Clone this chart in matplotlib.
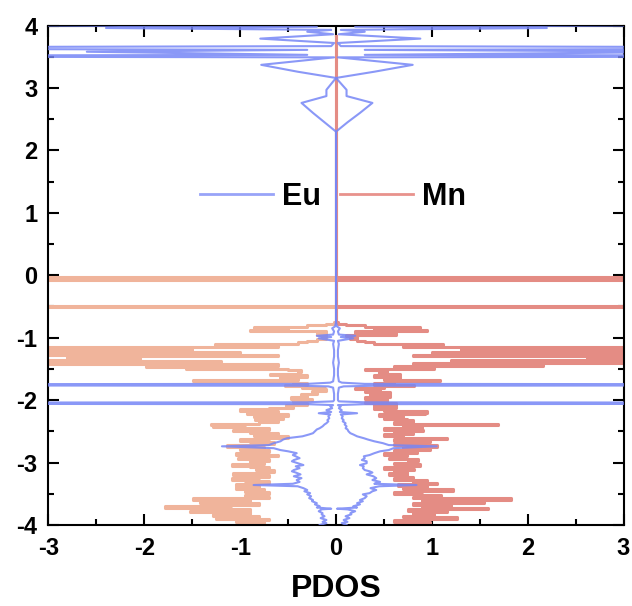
import numpy as np
import matplotlib
matplotlib.use("Agg")
import matplotlib.pyplot as plt
from matplotlib.lines import Line2D

plt.rcParams['font.family'] = ['Liberation Sans', 'DejaVu Sans']
plt.rcParams['font.weight'] = 'bold'
plt.rcParams['axes.unicode_minus'] = False

# Mn pdos on a 0.025 eV grid from -4.0 to -0.75 (spin dn plotted negative)
mn_energy = np.round(np.arange(-4.0, -0.7499, 0.025), 3)
mn_dn = [0.8, 0.75, 1.04, 0.7,
         1.25, 0.8, 1.28, 0.9,
         1.52, 0.9, 1.2, 1.78,
         1.1, 0.8, 1.42, 0.9,
         1.49, 0.7, 0.95, 0.83,
         0.7, 0.95, 0.75, 1.04,
         0.8, 1.04, 0.85, 0.7,
         0.95, 1.09, 0.8, 0.7,
         1.07, 0.75, 0.65, 0.83,
         0.7, 0.9, 1.09, 0.75,
         0.9, 0.7, 1.02, 0.8,
         0.6, 1.04, 0.85, 0.7,
         1.0, 0.75, 1.14, 0.8,
         0.65, 0.9, 1.0, 0.7,
         0.5, 0.86, 0.6, 0.9,
         1.07, 0.7, 0.95, 1.28,
         1.30, 0.8, 0.6, 0.85,
         0.55, 0.86, 0.5, 0.93,
         0.6, 1.0, 0.7, 0.45,
         0.52, 0.3, 0.4, 0.45,
         0.25, 0.47, 0.3, 0.36,
         0.2, 0.25, 0.1, 0.11,
         0.35, 0.53, 0.3, 0.45,
         1.49, 0.4, 0.58, 0.3,
         0.69, 0.4, 0.36, 0.5,
         1.56, 1.98, 0.6, 5.0,
         1.2, 5.0, 2.05, 2.81,
         0.6, 5.0, 1.0, 5.0,
         1.5, 5.0, 0.6, 1.26,
         0.4, 0.3, 0.2, 0.1,
         0.15, 0.1, 0.2, 0.1,
         0.9, 0.5, 0.86, 0.3,
         0.1, 0.02, 0.0]
mn_up = [0.7, 0.98, 0.6, 0.9,
         1.26, 0.7, 1.02, 0.8,
         1.16, 0.75, 1.59, 0.9,
         1.2, 0.8, 1.54, 0.9,
         1.83, 0.8, 1.1, 0.88,
         0.6, 0.9, 1.22, 0.7,
         0.95, 0.65, 1.05, 0.8,
         0.95, 0.6, 0.8, 0.74,
         0.55, 0.74, 0.6, 0.81,
         0.5, 0.7, 0.88, 0.6,
         0.75, 0.86, 0.55, 0.7,
         0.74, 0.5, 0.85, 0.6,
         0.98, 0.7, 1.05, 0.6,
         0.8, 0.98, 0.6, 1.16,
         0.7, 0.5, 0.8, 0.6,
         0.91, 0.5, 0.9, 0.7,
         1.69, 0.6, 0.8, 0.74,
         0.5, 0.7, 0.45, 0.93,
         0.95, 0.5, 0.4, 0.63,
         0.4, 0.63, 0.3, 0.53,
         0.53, 0.3, 0.56, 0.35,
         0.56, 0.3, 0.46, 0.2,
         0.5, 0.81, 0.4, 0.6,
         1.09, 0.5, 0.67, 0.4,
         0.67, 0.45, 0.53, 0.3,
         1.02, 0.6, 2.16, 0.8,
         5.0, 1.2, 5.0, 2.62,
         0.8, 5.0, 1.0, 5.0,
         1.3, 5.0, 0.7, 1.12,
         0.4, 0.3, 0.22, 0.15,
         0.22, 0.1, 0.63, 0.2,
         0.95, 0.4, 0.88, 0.3,
         0.1, 0.02, 0.0]
# sharp Mn states near the Fermi level, then flat up to 3.83 eV
mn_peak_energy = [-0.512, -0.488, -0.08, -0.064, -0.048, -0.032, -0.016, 3.83]
mn_peak_dn = [6.0, 0.0, 6.0, 0.0, 6.0, 0.0, 0.0, 0.0]
mn_peak_up = [6.0, 0.0, 6.0, 0.0, 6.0, 0.0, 0.0, 0.0]

# Eu pdos (up plotted positive, dn negative)
eu_energy = [-4.00, -3.97, -3.95, -3.92, -3.89, -3.86, -3.83, -3.81, -3.78, -3.75,
             -3.74, -3.72, -3.70, -3.67, -3.65, -3.62, -3.60, -3.57, -3.54, -3.51,
             -3.49, -3.46, -3.44, -3.41, -3.38, -3.36, -3.34, -3.31, -3.28, -3.25,
             -3.22, -3.19, -3.16, -3.14, -3.12, -3.09, -3.06, -3.04, -3.01, -2.98,
             -2.96, -2.93, -2.90, -2.88, -2.85, -2.82, -2.80, -2.77, -2.74, -2.72,
             -2.69, -2.66, -2.63, -2.61, -2.58, -2.55, -2.53, -2.50, -2.47, -2.45,
             -2.42, -2.39, -2.37, -2.34, -2.32, -2.29, -2.26, -2.23, -2.21, -2.19,
             -2.16, -2.13, -2.10, -2.08, -2.065, -2.05, -2.035, -2.02, -2.00, -1.90,
             -1.80, -1.78, -1.77, -1.755, -1.74, -1.72, -1.70, -1.60, -1.50, -1.40,
             -1.30, -1.20, -1.10, -1.05, -1.01, -0.99, -0.97, -0.95, -0.90, -0.85,
             -0.82, -0.75, 2.30, 2.45, 2.60, 2.76, 2.87, 2.97, 3.16, 3.26,
             3.37, 3.49, 3.51, 3.53, 3.58, 3.61, 3.64, 3.67, 3.72, 3.79,
             3.86, 3.90, 3.93, 3.96, 3.98, 4.00]
eu_up = [0.11, 0.06, 0.12, 0.08, 0.14, 0.10, 0.16, 0.15, 0.20, 0.12,
         0.01, 0.22, 0.18, 0.25, 0.22, 0.28, 0.25, 0.30, 0.32, 0.28,
         0.35, 0.38, 0.42, 0.36, 0.45, 0.84, 0.40, 0.46, 0.38, 0.42,
         0.39, 0.32, 0.38, 0.35, 0.30, 0.28, 0.29, 0.25, 0.32, 0.32,
         0.27, 0.30, 0.29, 0.35, 0.40, 0.46, 0.55, 0.60, 1.05, 0.55,
         0.49, 0.40, 0.33, 0.29, 0.22, 0.18, 0.15, 0.13, 0.12, 0.10,
         0.11, 0.09, 0.10, 0.07, 0.08, 0.06, 0.07, 0.05, 0.22, 0.04,
         0.06, 0.03, 0.05, 0.02, 0.3, 12.0, 0.3, 0.03, 0.02, 0.02,
         0.03, 0.08, 0.4, 12.0, 0.3, 0.06, 0.03, 0.02, 0.02, 0.03,
         0.02, 0.02, 0.03, 0.02, 0.18, 0.05, 0.20, 0.03, 0.02, 0.04,
         0.01, 0.0, 0.0, 0.12, 0.25, 0.38, 0.11, 0.11, 0.0, 0.40,
         0.80, 0.02, 8.0, 0.3, 4.0, 0.3, 8.0, 0.05, 0.02, 0.88,
         0.03, 0.30, 0.05, 2.2, 0.2, 3.0]
eu_dn = [0.17, 0.10, 0.14, 0.10, 0.16, 0.12, 0.15, 0.14, 0.18, 0.15,
         0.05, 0.20, 0.17, 0.22, 0.20, 0.25, 0.24, 0.28, 0.26, 0.30,
         0.27, 0.33, 0.30, 0.34, 0.40, 0.86, 0.45, 0.38, 0.41, 0.36,
         0.44, 0.37, 0.42, 0.46, 0.44, 0.38, 0.42, 0.34, 0.40, 0.46,
         0.44, 0.38, 0.42, 0.45, 0.41, 0.50, 0.58, 0.65, 1.19, 0.70,
         0.65, 0.58, 0.55, 0.51, 0.35, 0.28, 0.24, 0.22, 0.20, 0.17,
         0.14, 0.12, 0.10, 0.08, 0.09, 0.07, 0.08, 0.06, 0.18, 0.05,
         0.10, 0.04, 0.06, 0.03, 0.3, 12.0, 0.3, 0.03, 0.02, 0.02,
         0.03, 0.08, 0.4, 12.0, 0.3, 0.06, 0.03, 0.02, 0.02, 0.03,
         0.02, 0.02, 0.03, 0.02, 0.18, 0.05, 0.20, 0.03, 0.02, 0.04,
         0.01, 0.0, 0.0, 0.12, 0.24, 0.36, 0.10, 0.10, 0.0, 0.40,
         0.78, 0.02, 8.0, 0.3, 2.6, 0.3, 8.0, 0.05, 0.02, 0.79,
         0.03, 0.30, 0.05, 2.4, 0.2, 3.0]

EU_COLOR = '#7686f6'
MN_UP_COLOR = '#e48c84'
MN_DN_COLOR = '#f0b49b'

fig = plt.figure(figsize=(6.32, 6.06), dpi=100)
ax = fig.add_axes([0.0767, 0.1337, 0.9099, 0.8242])

e_mn = list(mn_energy) + mn_peak_energy
ax.plot(-np.array(mn_dn + mn_peak_dn), e_mn, drawstyle='steps-pre',
        color=MN_DN_COLOR, lw=2.2, zorder=2)
ax.plot(np.array(mn_up + mn_peak_up), e_mn, drawstyle='steps-pre',
        color=MN_UP_COLOR, lw=2.2, zorder=2)
ax.plot(eu_up, eu_energy, color=EU_COLOR, lw=1.5, alpha=0.85, zorder=3)
ax.plot(-np.array(eu_dn), eu_energy, color=EU_COLOR, lw=1.5, alpha=0.85, zorder=3)

ax.set_xlim(-3, 3)
ax.set_ylim(-4, 4)
ax.set_xticks(range(-3, 4))
ax.set_yticks(range(-4, 5))
ax.set_xticks(np.arange(-2.5, 3, 1.0), minor=True)
ax.set_yticks(np.arange(-3.5, 4, 1.0), minor=True)
ax.tick_params(which='both', direction='in', top=True, right=True, width=1.5)
ax.tick_params(which='major', length=8, labelsize=17)
ax.tick_params(axis='x', which='major', pad=9)
ax.tick_params(axis='y', which='major', pad=8)
ax.tick_params(which='minor', length=4)
for sp in ax.spines.values():
    sp.set_linewidth(1.5)
for lab in ax.get_xticklabels() + ax.get_yticklabels():
    lab.set_fontweight('bold')
ax.set_xlabel('PDOS', fontsize=23, fontweight='bold', labelpad=10)

handles = [Line2D([], [], color='#98a3f8', lw=2),
           Line2D([], [], color='#e8928c', lw=2)]
ax.legend(handles, ['Eu', 'Mn'], loc='center', bbox_to_anchor=(0.495, 0.657),
          ncol=2, frameon=False, handlelength=2.4, handletextpad=0.3,
          columnspacing=0.6, prop={'size': 22, 'weight': 'bold'})

fig.savefig('out.png', dpi=100)
